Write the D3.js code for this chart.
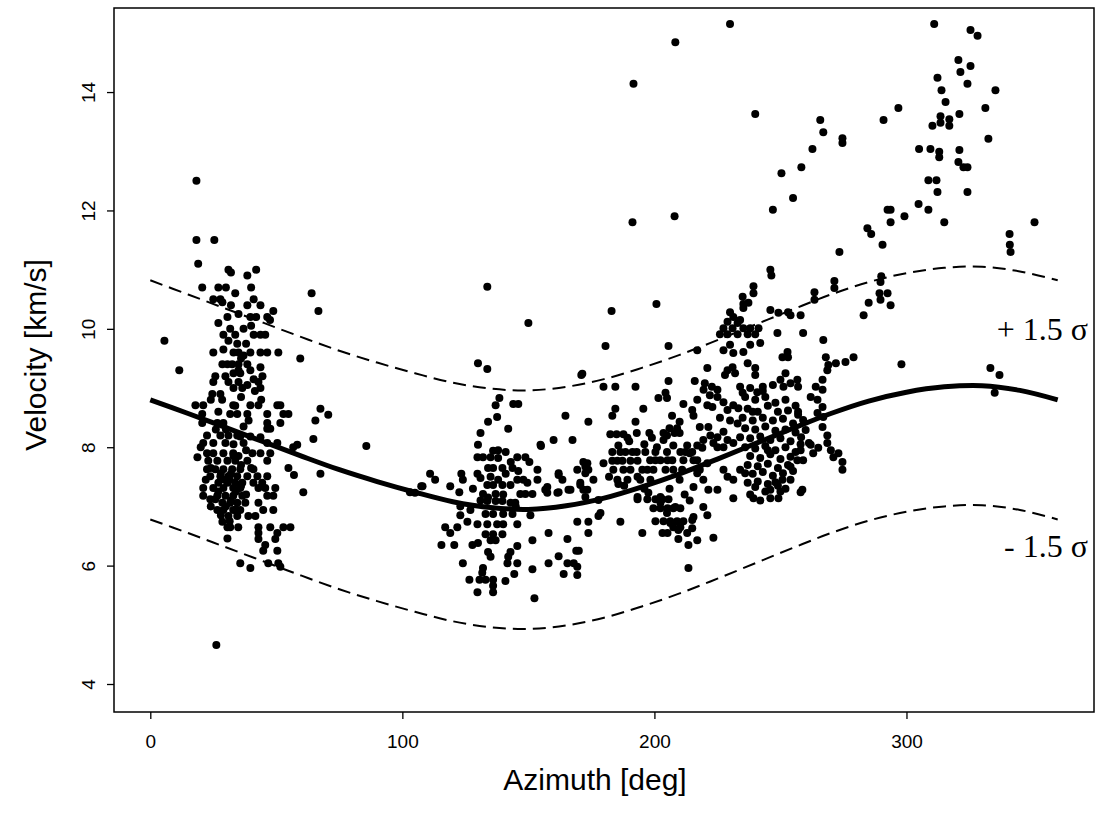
<!DOCTYPE html>
<html>
<head>
<meta charset="UTF-8">
<title>Velocity vs Azimuth</title>
<style>
  body { margin: 0; background: #fff; }
  svg text { fill: #000; }
</style>
</head>
<body>
<div id="chart"></div>
<script src="https://d3js.org/d3.v7.min.js"></script>
<script>
// tick labels
var xTicks = [0, 100, 200, 300];
var yTicks = [4, 6, 8, 10, 12, 14];

// fitted curve and +/- 1.5 sigma band
var fitAz    = [0, 15, 30, 45, 60, 75, 90, 105, 120, 135, 150, 165, 180, 195, 210, 225, 240, 255, 270, 285, 300, 315, 330, 345, 360];
var fitMean  = [8.80, 8.57, 8.33, 8.09, 7.85, 7.62, 7.42, 7.24, 7.08, 6.98, 6.95, 7.01, 7.14, 7.33, 7.55, 7.80, 8.06, 8.32, 8.57, 8.78, 8.93, 9.02, 9.04, 8.96, 8.80];
var fitUpper = [10.82, 10.58, 10.34, 10.10, 9.86, 9.63, 9.43, 9.25, 9.09, 8.99, 8.96, 9.02, 9.15, 9.34, 9.56, 9.81, 10.07, 10.33, 10.58, 10.79, 10.94, 11.03, 11.05, 10.97, 10.82];
var fitLower = [6.78, 6.55, 6.31, 6.07, 5.83, 5.60, 5.40, 5.22, 5.06, 4.96, 4.93, 4.99, 5.12, 5.31, 5.53, 5.78, 6.04, 6.30, 6.55, 6.76, 6.91, 7.00, 7.02, 6.94, 6.78];

// observations [azimuth, velocity]
var groupA = [
  [18.3,12.5],[18.3,11.5],[25.4,11.5],[19,11.1],
  [31,11.0],[32,10.95],[38.5,10.9],[42,11.0],
  [20.6,10.7],[27,10.7],[30,10.7],[33.7,10.6],[64,10.6],[66.7,10.3],
  [27.8,10.5],[25,10.5],[28.6,10.45],[32,10.4],[38.5,10.4],[41,10.5],[43.7,10.4],[48.8,10.3],
  [30.6,10.2],[39.7,10.2],[42,10.2],[46.4,10.2],[47.5,10.15],
  [5.6,9.8],
  [31.7,10.0],[37,10.0],[29,9.9],[33.7,9.9],[41,9.9],[43.7,9.9],[45.6,9.9],
  [34.5,9.75],[25,9.6],[33,9.6],[35,9.6],[39.7,9.6],[43.7,9.6],[46.4,9.6],[50.8,9.6],[59.5,9.5],
  [11.5,9.3],
  [28.6,9.4],[30.6,9.4],[32.5,9.4],[35,9.4],[38.5,9.4],[35,9.3],[39.7,9.3],[43.7,9.35],[44.5,9.2],
  [25.8,9.2],[25,9.1],[29.8,9.2],[35.7,9.25],[35,9.1],[42.9,9.1],
  [33,9.0],[36.5,9.0],[38.5,9.05],[41.5,8.95],[43.7,9.0],
  [24.6,8.9],[27.8,8.9],[24,8.8],[28.5,8.8],[33.7,8.7],
  [17.9,8.71],[21,8.71],[32.9,8.71],[39.7,8.71],[42.9,8.71],[50.4,8.71],[51.6,8.71],
  [20.6,8.56],[31.7,8.56],[34.5,8.56],[38.5,8.56],[46.4,8.56],[52.8,8.56],[54.8,8.56],
  [67.5,8.65],[70.6,8.55],
  [20.6,8.41],[26.6,8.41],[29,8.41],[46.4,8.41],[51.6,8.41],[65.5,8.45],
  [46.4,8.31],[47.6,8.31],
  [22.5,8.2],[27.8,8.2],[31,8.2],[34.5,8.2],[35.7,8.18],[39.7,8.18],[43.7,8.17],
  [64.7,8.14],
  [21,8.07],[25,8.07],[29.8,8.07],[37,8.07],[46.4,8.07],[50.4,8.07],[56.7,8.0],[58.3,8.04],
  [22.5,7.9],[25,7.9],[29,7.9],[32.9,7.9],[40.5,7.9],[43.7,7.9],[47.6,7.9],
  [18.7,7.83],
  [23,7.77],[26.6,7.77],[30.6,7.77],[33.7,7.77],[38.5,7.77],[46.4,7.77],
  [54.8,7.65],[57,7.53],[67.5,7.55],
  [22.5,7.63],[25.8,7.63],[29,7.63],[32.5,7.63],[35.7,7.63],[40.9,7.63],
  [23.8,7.51],[27.8,7.51],[31,7.51],[34.5,7.51],[38.5,7.51],[42.5,7.51],[46.4,7.51],
  [27,7.4],[30.6,7.4],[33.7,7.4],[36.5,7.4],[40.9,7.4],[44.4,7.4],
  [21,7.31],[25,7.31],[29,7.31],[32.9,7.31],[35.7,7.31],[42.9,7.31],[45.6,7.31],[49.6,7.31],
  [60.7,7.24],
  [21,7.18],[26.6,7.18],[29.8,7.18],[32.9,7.18],[36.5,7.18],[46.4,7.18],[48.8,7.18],
  [23.8,7.12],[25.8,7.12],
  [28.6,7.06],[31.7,7.06],[34.5,7.06],[37.7,7.06],[42.9,7.06],
  [26.6,6.94],[29,6.94],[32.9,6.94],[35.7,6.94],[44.8,6.94],[48.8,6.94],
  [31,6.84],[34.5,6.84],[38.9,6.84],[41.7,6.84],
  [28.6,6.74],
  [30.6,6.65],[31.7,6.65],[34.9,6.65],[42.9,6.65],[47.6,6.65],[52.8,6.65],[55.6,6.65],
  [42.9,6.55],[50.4,6.55],
  [30.6,6.46],[42.9,6.45],[49.6,6.45],
  [45.6,6.35],[44.8,6.25],[50.4,6.25],
  [35.7,6.04],[39.7,5.96],[46.8,6.04],[50.8,6.04],[51.6,5.98],
  [26.2,4.66],
  [85.7,8.02],
  [30,7.0],[32,7.1],[34,7.25],[31.5,7.45],[28,7.55],[36,7.7],[33,7.85],[30,8.3],[37,8.35],
  [27,8.6],[36,8.85],[31,9.1],[33,9.25],[36,9.5],[38,9.75],[31,9.8],[40,10.05],
  [24,7.0],[27,7.25],[29.5,7.45],[32,7.55],[35,7.85],[38,7.95],[26,8.3],[33,8.05],[36,7.35],
  [28,6.85],[31.5,6.75],[34,6.95],[38,7.2],[40,7.65],[24,7.65],[22,7.45],[20,8.0],[39,8.45],
  [44,8.8],[41,9.15],[37,9.55],[29,9.65],[27,10.1],[35,10.25],[40,10.7]
];

var groupB = [
  [133.7,10.71],[150,10.1],[130,9.42],[133.7,9.32],[171,9.22],
  [138.5,8.83],[144,8.73],[146,8.73],[137,8.71],[137.6,8.51],[134,8.43],[142,8.31],[131,8.24],
  [155,8.02],[160,8.12],[130,8.04],[136,7.94],[141,7.92],
  [129.8,7.83],[132,7.83],[135,7.83],[138,7.82],[145.6,7.83],[148.8,7.83],[150.4,7.75],
  [134,7.65],[136,7.65],[139.7,7.65],[143.7,7.65],[153.6,7.62],[162,7.53],
  [111,7.55],[113,7.45],[123.4,7.55],[124,7.45],[129.8,7.55],[131,7.48],[145.6,7.45],[148,7.45],[149.6,7.4],
  [108,7.34],[107.5,7.34],[119,7.34],[133.7,7.36],[136,7.36],[139.7,7.36],[142.9,7.36],[153.6,7.45],[157.5,7.33],
  [122.6,7.24],[132,7.21],[137,7.21],[146.8,7.21],[148.8,7.21],[151.6,7.21],[161.5,7.23],[103,7.24],[105,7.23],
  [133.7,7.09],[137,7.09],[139.7,7.09],[142.9,7.06],[144.8,7.06],
  [123,7.0],[123,6.85],[127,6.94],[133,6.87],[136,6.87],[140,6.87],[143.7,6.87],[150.8,6.85],
  [125.8,6.74],[129.8,6.7],[133.7,6.7],[137.6,6.7],[140,6.7],[145.6,6.7],
  [117,6.65],[119,6.55],[121.8,6.65],[133,6.53],[136,6.53],[139.7,6.53],[158,6.55],
  [135,6.43],[137,6.43],[151.6,6.43],[115.5,6.35],[120.6,6.35],[127.8,6.35],[130,6.38],
  [134,6.23],[135,6.15],[145.6,6.33],[142.9,6.23],[142,6.15],[162,6.16],
  [124,6.04],[141.7,6.04],[145.6,6.04],[158,6.04],[151.6,5.94],[132,5.96],[131.7,5.88],
  [126.6,5.76],[130.6,5.76],[133,5.76],[140.9,5.74],[144.4,5.86],[136,5.76],[136,5.66],[136,5.55],[129.8,5.55],[152.4,5.45],
  [154.8,8.04],[167.5,8.12],[164.7,8.53],[173.8,8.43],
  [165.5,6.45],[169,6.25],[170,6.25],[168,6.04],[169.4,5.98],[169.4,5.84],[164,5.86],[165.5,6.04],
  [169.4,6.74],[173.8,6.74],[173.8,6.55],
  [162,7.56],[163.5,7.45],[166.7,7.28],[170.6,7.4],[172.6,7.56],[173.4,7.73],[171.8,7.28],
  [156.7,7.28],[157.5,7.23],[162,7.24],[165.9,7.28],
  [171.8,7.75],[172.6,7.67],[173.8,7.62],[169.4,7.62],
  [170.6,7.36],[173.4,7.28],[172.6,7.16],[175.8,7.45],[177.8,7.11],[178.6,6.89],[177.8,6.84],
  [135,7.5],[138,7.45],[141,7.55],[134,7.15],[140,7.2],[145,7.0],[131,7.1],[128,7.3],[146,7.6],[138,7.95],[143,7.75]
];

var groupC = [
  [200.8,10.42],[183,10.3],[180.6,9.71],[205.6,9.71],[217,9.64],[171.4,9.24],
  [179.8,9.02],[184.5,9.02],[192.5,9.02],[205.6,9.12],[216,9.12],
  [201.6,8.83],[204.4,8.92],[205,8.83],[211.5,8.73],[215,8.63],[215.5,8.53],
  [184.5,8.65],[183.3,8.53],[195.6,8.65],[192.5,8.43],[207,8.53],[210,8.43],
  [206,8.32],[205,8.2],[209,8.32],
  [182.5,8.22],[185,8.22],[187.7,8.22],[189.3,8.16],[193,8.24],[198,8.24],[199,8.16],[203.6,8.24],[203.6,8.12],[208,8.24],[210,8.24],
  [185.7,8.03],[207.5,8.03],[213,8.03],[217,8.03],
  [183.3,7.92],[186.5,7.92],[188.5,7.92],[191.3,7.92],[193,7.92],[196.4,7.92],[200.4,7.92],[205,7.92],[210.3,7.92],[212.3,7.92],[215,7.92],
  [179.8,7.73],
  [183.3,7.77],[185.3,7.77],[187.3,7.77],[190.5,7.77],[193.3,7.77],[198.3,7.78],[200.4,7.78],[202.4,7.78],[205.2,7.78],[207.1,7.78],[211.5,7.78],[215.5,7.78],
  [183.7,7.62],[187.7,7.62],[190.5,7.62],[195.2,7.62],[197.2,7.62],[199.6,7.62],[204.4,7.62],[207.5,7.62],[211,7.62],[217,7.62],
  [185.3,7.45],[185.7,7.38],[189.3,7.45],[193.3,7.5],[194.4,7.45],[198.4,7.45],
  [193.3,7.12],[197.2,7.12],[200.4,7.12],[203.2,7.12],[205.6,7.12],
  [199.6,6.97],[202.4,6.97],[205.2,6.97],[207.5,6.97],[210.3,6.97],
  [200.4,6.75],[203.6,6.75],[206.3,6.75],[209,6.75],[211.5,6.75],
  [186.5,6.74],[205.2,6.55],[207.5,6.65],[210.3,6.65],[215,6.77],[215,6.63],
  [195.2,6.55],[203.2,6.55],[209.5,6.45],[213.5,6.35],[213.5,5.96],
  [202.4,7.06],[205,6.89],[208.3,6.99],[206.3,6.72],[209.5,6.6],[213,6.55],[217,6.43],
  [221,6.85],[215.5,6.82],[219.4,6.99],[223.4,6.47],
  [193.3,7.16],[197.6,7.23],[202.4,7.16],
  [190,8.1],[196,8.05],[201,8.0],[188,7.35],[182,7.5],[196,7.3],[206,7.3],[212,7.2],[210,7.45],[214,7.1]
];

var groupD = [
  [246,11.0],[239.3,10.72],[271.4,10.81],[263.5,10.62],
  [235,10.54],[237.3,10.44],[235.3,10.35],[246,10.32],[249.2,10.27],[253,10.28],[254,10.23],[258,10.23],[285,10.44],[283,10.23],
  [230,10.28],[231.3,10.2],[229,10.12],[233,10.1],[234,10.15],
  [227.4,10.01],[231,10.01],[235.3,10.01],[238,10.01],[241.3,10.01],
  [226,9.91],[229,9.91],[233,9.91],[237,9.91],[240,9.91],
  [242,9.76],[238,9.73],[230,9.73],[227.4,9.64],[231.3,9.59],[235.3,9.61],
  [248.8,9.93],[259,9.93],[267,9.81],
  [252.8,9.61],[250.8,9.52],[253,9.52],
  [268,9.52],[269,9.39],[272,9.42],[268.6,9.3],[275.8,9.44],[279,9.52],
  [221,9.34],[229,9.3],[231,9.35],[232,9.25],[228,9.22],[237,9.42],[240,9.34],[240,9.22],[252,9.25],
  [220,9.08],[222.8,9.02],[225,8.97],[219.5,8.97],[222,8.88],[225,8.85],
  [234,9.02],[235,8.92],[238,9.0],[240.8,8.93],[243,9.02],
  [250,9.14],[251.2,9.02],[254,9.08],[256.7,9.14],[257,9.02],
  [264,9.02],[266.7,9.14],[266.7,8.97],
  [217,8.8],[221,8.71],[223,8.68],
  [227.4,8.76],[229,8.63],[231.3,8.71],[233.3,8.66],
  [262,8.85],[264.7,8.8],[266.7,8.68],[264.7,8.58],[267,8.51],[266.7,8.34],[268.6,8.2],
  [257,8.6],[259,8.46],[260,8.29],[258.2,8.17],[261.3,8.07],
  [218,8.34],[221.4,8.34],[222.2,8.2],[225,8.17],[219.4,8.12],
  [227.4,8.26],[229,8.12],[231.3,8.07],[234,8.17],
  [214,7.9],[219,7.99],[217,7.78],[221,7.73],[218,7.62],
  [223.4,8.07],[225,8.0],[227.4,8.0],
  [217,7.56],[219.4,7.45],[215.5,7.33],[221.4,7.28],[225,7.28],
  [227.4,7.62],[229,7.5],[231.3,7.45],[234,7.62],[236,7.56],
  [237,7.4],[240,7.33],[246,7.28],[248,7.41],[250.8,7.45],
  [254,7.67],[256.7,7.78],[259,7.78],[254,7.45],[258.7,7.28],
  [270,7.95],[268.6,8.07],[271,7.83],[273,7.9],[274.6,7.75],[274.6,7.62],
  [262,8.04],[263,7.9],[265,7.99],
  [231.3,7.14],[239.3,7.14],[246,7.14],[249.2,7.14],[258,7.24],
  [236,8.85],[240,8.8],[244,8.85],[248,8.75],[252,8.8],[256,8.7],
  [237,8.65],[241,8.6],[245,8.7],[249,8.6],[253,8.62],[257,8.55],
  [235,8.5],[239,8.45],[243,8.5],[247,8.45],[251,8.48],[255,8.4],
  [236,8.32],[240,8.3],[244,8.35],[248,8.28],[252,8.3],[256,8.25],
  [238,8.15],[242,8.18],[246,8.12],[250,8.15],[254,8.1],[258,8.05],
  [236,8.0],[240,7.98],[244,8.02],[248,7.95],[252,8.0],[256,7.92],
  [238,7.85],[242,7.82],[246,7.88],[250,7.8],[254,7.84],
  [237,7.7],[241,7.68],[245,7.72],[249,7.65],[253,7.7],
  [239,7.55],[243,7.58],[247,7.52],[251,7.56],
  [241,7.42],[245,7.38],[249,7.35],[244,7.25],[252,7.3],
  [243,8.95],[247,9.05],[233,8.4],[230,8.45],[226,8.5],[238,7.2],[242,7.1],[250,7.25],
  [255,7.6],[258,7.95],[245,7.95],[239,8.6]
];

var groupHigh = [
  [191.7,14.14],[208.3,14.84],[230,15.15],[240,13.63],[191.3,11.8],[208,11.9],
  [265.8,13.53],[267,13.32],[274.6,13.22],[274.6,13.14],[262.7,13.04],[258.3,12.73],[250.4,12.63],[255,12.21],[247,12.01],
  [290.9,13.53],[296.8,13.73],[311,15.15],[325.4,15.05],[328.2,14.95],
  [320.6,14.54],[321.4,14.34],[325.4,14.44],[312.3,14.24],[313.9,14.03],[315.5,13.83],[324.2,14.14],[335.3,14.03],[331.3,13.73],[321,13.63],
  [313.5,13.59],[313.5,13.48],[310.3,13.43],[317,13.54],[317,13.43],[332.5,13.21],
  [305,13.04],[309.5,13.04],[313,12.99],[313,12.9],[321,13.02],[320.6,12.82],[322.6,12.73],[324.2,12.73],
  [308.7,12.51],[311.9,12.51],[312.3,12.31],[324.2,12.31],[304.8,12.11],[308.7,12.01],
  [292.5,12.01],[293.7,12.01],[293.7,11.8],[299.2,11.9],[315,11.8],[284.5,11.7],[286,11.6],[290.5,11.42],[273.4,11.3],
  [340.9,11.6],[341,11.42],[341.3,11.3],[350.8,11.8],
  [246.4,10.9],[239.3,10.6],[235.3,10.42],[271.4,10.69],[263.5,10.49],
  [290,10.89],[289.7,10.79],[289.3,10.6],[292.5,10.6],[289.7,10.49],[293.7,10.4],
  [333.3,9.34],[336.9,9.22],[335,8.92],[298,9.4]
];

var width = 1095,
    height = 820,
    box = { left: 114, right: 1094, top: 8, bottom: 712 };

var svg = d3.select("#chart")
  .append("svg")
  .attr("width", width)
  .attr("height", height)
  .style("font-family", "'Liberation Sans', Arial, sans-serif");

var x = d3.scaleLinear()
  .domain([-14.4, 374.4])
  .range([box.left, box.right]);

var y = d3.scaleLinear()
  .domain([3.527, 15.42])
  .range([box.bottom, box.top]);

// clip so points at the top edge are cut by the frame
svg.append("clipPath")
  .attr("id", "plotClip")
  .append("rect")
  .attr("x", box.left)
  .attr("y", box.top)
  .attr("width", box.right - box.left)
  .attr("height", box.bottom - box.top);

var plot = svg.append("g").attr("clip-path", "url(#plotClip)");

// points
var allPoints = [].concat(groupA, groupB, groupC, groupD, groupHigh);
plot.selectAll("circle")
  .data(allPoints)
  .join("circle")
  .attr("cx", function(d) { return x(d[0]); })
  .attr("cy", function(d) { return y(d[1]); })
  .attr("r", 4)
  .attr("fill", "#000");

// fit curves
function band(values) {
  return fitAz.map(function(a, i) { return [a, values[i]]; });
}
var line = d3.line()
  .x(function(d) { return x(d[0]); })
  .y(function(d) { return y(d[1]); })
  .curve(d3.curveCatmullRom.alpha(0.5));

plot.append("path")
  .datum(band(fitMean))
  .attr("d", line)
  .attr("fill", "none")
  .attr("stroke", "#000")
  .attr("stroke-width", 5);

[fitUpper, fitLower].forEach(function(v) {
  plot.append("path")
    .datum(band(v))
    .attr("d", line)
    .attr("fill", "none")
    .attr("stroke", "#000")
    .attr("stroke-width", 2)
    .attr("stroke-dasharray", "13,7");
});

// frame
svg.append("rect")
  .attr("x", box.left)
  .attr("y", box.top)
  .attr("width", box.right - box.left)
  .attr("height", box.bottom - box.top)
  .attr("fill", "none")
  .attr("stroke", "#000")
  .attr("stroke-width", 1.5);

// x axis
var xAxis = svg.append("g")
  .attr("transform", "translate(0," + box.bottom + ")")
  .call(d3.axisBottom(x).tickValues(xTicks).tickSize(7).tickPadding(16).tickSizeOuter(0));
xAxis.select(".domain").remove();
xAxis.selectAll("line").attr("stroke", "#000").attr("stroke-width", 1.3);
xAxis.selectAll("text")
  .attr("font-size", "19px")
  .style("font-family", "'Liberation Sans', Arial, sans-serif");

// y axis, labels parallel to the axis
var yAxis = svg.append("g")
  .attr("transform", "translate(" + box.left + ",0)")
  .call(d3.axisLeft(y).tickValues(yTicks).tickSize(7).tickSizeOuter(0));
yAxis.select(".domain").remove();
yAxis.selectAll("line").attr("stroke", "#000").attr("stroke-width", 1.3);
yAxis.selectAll("text")
  .attr("transform", "rotate(-90)")
  .attr("x", 0)
  .attr("y", -19)
  .attr("dy", 0)
  .style("text-anchor", "middle")
  .attr("font-size", "19px")
  .style("font-family", "'Liberation Sans', Arial, sans-serif");

// axis titles
svg.append("text")
  .attr("x", 595)
  .attr("y", 790)
  .attr("text-anchor", "middle")
  .attr("font-size", "30px")
  .text("Azimuth [deg]");

svg.append("text")
  .attr("transform", "translate(46,355) rotate(-90)")
  .attr("text-anchor", "middle")
  .attr("font-size", "30px")
  .text("Velocity [km/s]");

// sigma labels
svg.append("text")
  .attr("x", 1088)
  .attr("y", 340)
  .attr("text-anchor", "end")
  .attr("font-size", "32px")
  .style("font-family", "'Liberation Serif', 'Times New Roman', serif")
  .text("+ 1.5 \u03C3");

svg.append("text")
  .attr("x", 1088)
  .attr("y", 557)
  .attr("text-anchor", "end")
  .attr("font-size", "32px")
  .style("font-family", "'Liberation Serif', 'Times New Roman', serif")
  .text("- 1.5 \u03C3");
</script>
</body>
</html>
